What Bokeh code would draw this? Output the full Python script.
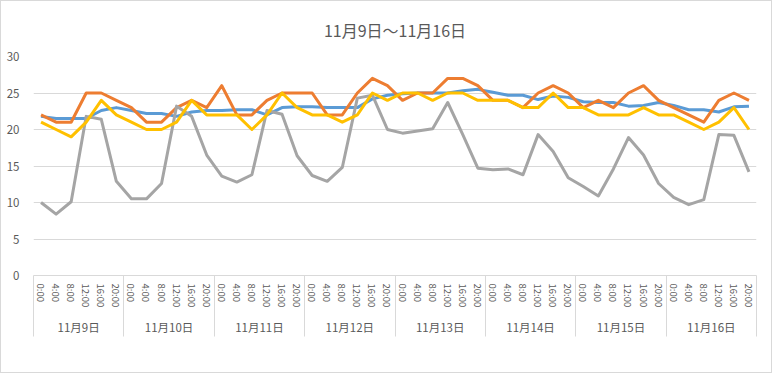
from bokeh.plotting import figure
from bokeh.models import Range1d, Legend, LegendItem, FixedTicker, LinearAxis
from bokeh.embed import file_html
from bokeh.resources import INLINE

days = ["11月9日", "11月10日", "11月11日", "11月12日", "11月13日", "11月14日", "11月15日", "11月16日"]
times = ["0:00", "4:00", "8:00", "12:00", "16:00", "20:00"]
y_ticks = [0, 5, 10, 15, 20, 25, 30]

upstairs = [21.8, 21.5, 21.5, 21.5, 22.6, 23.0, 22.6, 22.2, 22.2, 21.8, 22.4, 22.6,
            22.6, 22.7, 22.7, 22.0, 23.0, 23.1, 23.1, 23.0, 23.0, 23.0, 24.2, 24.7,
            24.9, 25.0, 25.0, 25.0, 25.3, 25.5, 25.1, 24.7, 24.7, 24.1, 24.6, 24.4,
            23.8, 23.7, 23.7, 23.2, 23.3, 23.7, 23.3, 22.7, 22.7, 22.4, 23.1, 23.2]
ldk = [22, 21, 21, 25, 25, 24, 23, 21, 21, 23, 24, 23,
       26, 22, 22, 24, 25, 25, 25, 22, 22, 25, 27, 26,
       24, 25, 25, 27, 27, 26, 24, 24, 23, 25, 26, 25,
       23, 24, 23, 25, 26, 24, 23, 22, 21, 24, 25, 24]
outside = [10.0, 8.4, 10.1, 21.8, 21.4, 12.9, 10.5, 10.5, 12.6, 23.2, 21.8, 16.5,
           13.6, 12.8, 13.8, 22.6, 22.1, 16.4, 13.7, 12.9, 14.8, 24.3, 24.7, 20.0,
           19.5, 19.8, 20.1, 23.7, 19.3, 14.7, 14.5, 14.6, 13.8, 19.3, 17.0, 13.4,
           12.2, 10.9, 14.6, 18.9, 16.5, 12.6, 10.7, 9.7, 10.4, 19.3, 19.2, 14.2]
bedroom = [21, 20, 19, 21, 24, 22, 21, 20, 20, 21, 24, 22,
           22, 22, 20, 22, 25, 23, 22, 22, 21, 22, 25, 24,
           25, 25, 24, 25, 25, 24, 24, 24, 23, 23, 25, 23,
           23, 22, 22, 22, 23, 22, 22, 21, 20, 21, 23, 20]

series_names = ["2階・温湿センサ", "LDK・エアコン", "外まわり・温湿センサ", "主寝室・エアコン"]
series_values = [upstairs, ldk, outside, bedroom]
series_colors = ["#5B9BD5", "#ED7D31", "#A5A5A5", "#FFC000"]

# category positions: one slot per (day, time) reading, centred in its slot
n_t = len(times)
n = len(days) * n_t
xs = [i + 0.5 for i in range(n)]
time_labels = {xs[d * n_t + k]: t for d in range(len(days)) for k, t in enumerate(times)}
day_centres = [d * n_t + n_t / 2 for d in range(len(days))]
day_labels = {c: d for c, d in zip(day_centres, days)}
day_bounds = [d * n_t for d in range(len(days) + 1)]

JP = "Noto Sans CJK JP"
TXT = "#595959"
GRID = "#D9D9D9"

p = figure(frame_width=723, frame_height=219, output_backend="svg", toolbar_location=None,
           x_range=Range1d(0, n), y_range=Range1d(0, 30),
           min_border_left=32, min_border_right=15, min_border_top=51,
           min_border_bottom=97,
           title="11月9日～11月16日",
           styles={"border": "1px solid #D9D9D9"})
p.outline_line_color = None

p.title.align = "center"
p.title.text_font = JP
p.title.text_font_size = "16px"
p.title.text_font_style = "normal"
p.title.text_color = TXT
p.title.standoff = 29

items = []
for name, vals, col in zip(series_names, series_values, series_colors):
    r = p.line(x=xs, y=vals, line_color=col, line_width=3, line_join="round")
    items.append(LegendItem(label=name, renderers=[r]))

# y axis
p.yaxis.ticker = FixedTicker(ticks=y_ticks)
p.yaxis.axis_line_color = None
p.yaxis.major_tick_line_color = None
p.yaxis.minor_tick_line_color = None
p.yaxis.major_label_text_font = JP
p.yaxis.major_label_text_font_size = "11.5px"
p.yaxis.major_label_text_color = TXT
p.yaxis.major_label_standoff = 8
p.ygrid.grid_line_color = GRID
p.xgrid.grid_line_color = None

# first x axis: baseline + day separators reaching down through the labels
sa = p.xaxis[0]
sa.ticker = FixedTicker(ticks=day_bounds)
sa.major_label_overrides = {b: "" for b in day_bounds}
sa.axis_line_color = GRID
sa.major_tick_line_color = GRID
sa.major_tick_in = -61
sa.major_tick_out = 0
sa.minor_tick_line_color = None
sa.major_label_standoff = 0

# time labels
ta = LinearAxis(ticker=FixedTicker(ticks=xs), major_label_overrides=time_labels,
                axis_line_color=None, major_tick_line_color=None,
                minor_tick_line_color=None, major_label_orientation="vertical",
                major_label_text_font=JP, major_label_text_font_size="9.5px",
                major_label_text_color=TXT, major_label_standoff=2)
p.add_layout(ta, "below")

# day labels
da = LinearAxis(ticker=FixedTicker(ticks=day_centres), major_label_overrides=day_labels,
                axis_line_color=None, major_tick_line_color=None,
                minor_tick_line_color=None,
                major_label_text_font=JP, major_label_text_font_size="11.5px",
                major_label_text_color=TXT, major_label_standoff=2)
p.add_layout(da, "below")

# legend placed below the axis labels (offset from the frame's bottom-left)
legend = Legend(items=items, orientation="horizontal", location=(88, -88),
                border_line_color=None, background_fill_alpha=0,
                label_text_font=JP, label_text_font_size="11.5px",
                label_text_color=TXT, glyph_width=26, glyph_height=12,
                label_standoff=2, spacing=20, padding=2, margin=0)
p.add_layout(legend, "center")

open("out.html", "w").write(file_html(p, INLINE))
